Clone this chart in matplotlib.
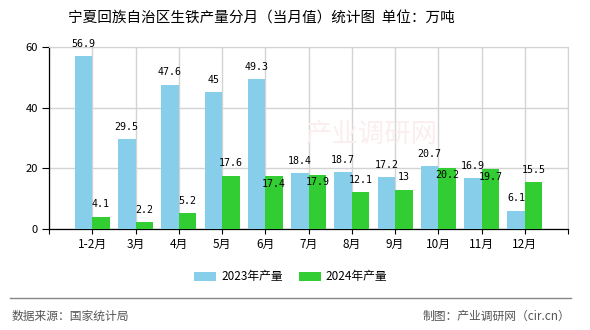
import numpy as np
import matplotlib
matplotlib.use('Agg')
import matplotlib.pyplot as plt
import matplotlib.lines as mlines
from matplotlib.transforms import Bbox

plt.rcParams['font.family'] = ['Noto Sans CJK SC', 'DejaVu Sans']

months = ['1-2月', '3月', '4月', '5月', '6月', '7月', '8月', '9月', '10月', '11月', '12月']
prod_2023 = [56.9, 29.5, 47.6, 45, 49.3, 18.4, 18.7, 17.2, 20.7, 16.9, 6.1]
prod_2024 = [4.1, 2.2, 5.2, 17.6, 17.4, 17.9, 12.1, 13, 20.2, 19.7, 15.5]

c23 = '#87CEEB'
c24 = '#32CD32'

fig = plt.figure(figsize=(5.9, 3.3), dpi=100)
ax = fig.add_axes([0.083, 0.306, 0.880, 0.552])

x = np.arange(1, len(months) + 1)
w = 0.405

b1 = ax.bar(x - w / 2, prod_2023, w, color=c23, label='2023年产量', zorder=3)
b2 = ax.bar(x + w / 2, prod_2024, w, color=c24, label='2024年产量', zorder=3)

def fmt(v):
  return f'{v:g}'

lab_kw = dict(ha='center', va='center', fontsize=7.2, family=['DejaVu Sans Mono'], zorder=4)
labels23 = [ax.text(xi - w / 2, v + 4, fmt(v), **lab_kw) for xi, v in zip(x, prod_2023)]
labels24 = [ax.text(xi + w / 2, v + 4, fmt(v), **lab_kw) for xi, v in zip(x, prod_2024)]

ax.set_xlim(0, 12)
ax.set_ylim(0, 60)
ax.set_yticks([0, 20, 40, 60])
ax.set_xticks(range(0, 13))
ax.set_xticklabels([''] + months + [''])
ax.tick_params(axis='y', labelsize=8, length=5, width=0.8, color='black', direction='out', pad=3)
ax.tick_params(axis='x', labelsize=8.5, length=3.5, width=0.8, color='black', direction='out', pad=3)

ax.grid(True, color='#d3d3d3', linewidth=1, zorder=0)
ax.set_axisbelow(True)
for s in ['top', 'right']:
  ax.spines[s].set_color('#d3d3d3')
for s in ['left', 'bottom']:
  ax.spines[s].set_color('black')
  ax.spines[s].set_linewidth(0.9)

# move 2024 labels that collide with 2023 labels down into the bar top
fig.canvas.draw()
r = fig.canvas.get_renderer()

def hpad(bb, p=4):
  return Bbox([[bb.x0 - p, bb.y0], [bb.x1 + p, bb.y1]])

boxes23 = [t.get_window_extent(r) for t in labels23]
for t, v in zip(labels24, prod_2024):
  bb = hpad(t.get_window_extent(r))
  if any(bb.overlaps(b) for b in boxes23):
    t.set_y(v - 2.5)

fig.text(0.443, 0.945, '宁夏回族自治区生铁产量分月（当月值）统计图  单位：万吨',
         ha='center', va='center', fontsize=10.5)

# faint watermark
ax.text(0.493, 0.52, '产业调研网', transform=ax.transAxes, fontsize=19,
        color='#faeeee', ha='left', va='center', zorder=1)

fig.legend(handles=[b1, b2], loc='center', bbox_to_anchor=(0.493, 0.161), ncol=2,
           frameon=False, fontsize=8.5, handlelength=1.87, handleheight=0.76,
           columnspacing=1.35, handletextpad=0.42)

fig.add_artist(mlines.Line2D([0.017, 0.968], [0.097, 0.097], color='#888888', linewidth=1))
fig.text(0.02, 0.042, '数据来源：国家统计局', ha='left', va='center', fontsize=8.5, color='#555555')
fig.text(0.966, 0.042, '制图：产业调研网（cir.cn）', ha='right', va='center', fontsize=8.5, color='#555555')

fig.savefig('out.png', dpi=100)
